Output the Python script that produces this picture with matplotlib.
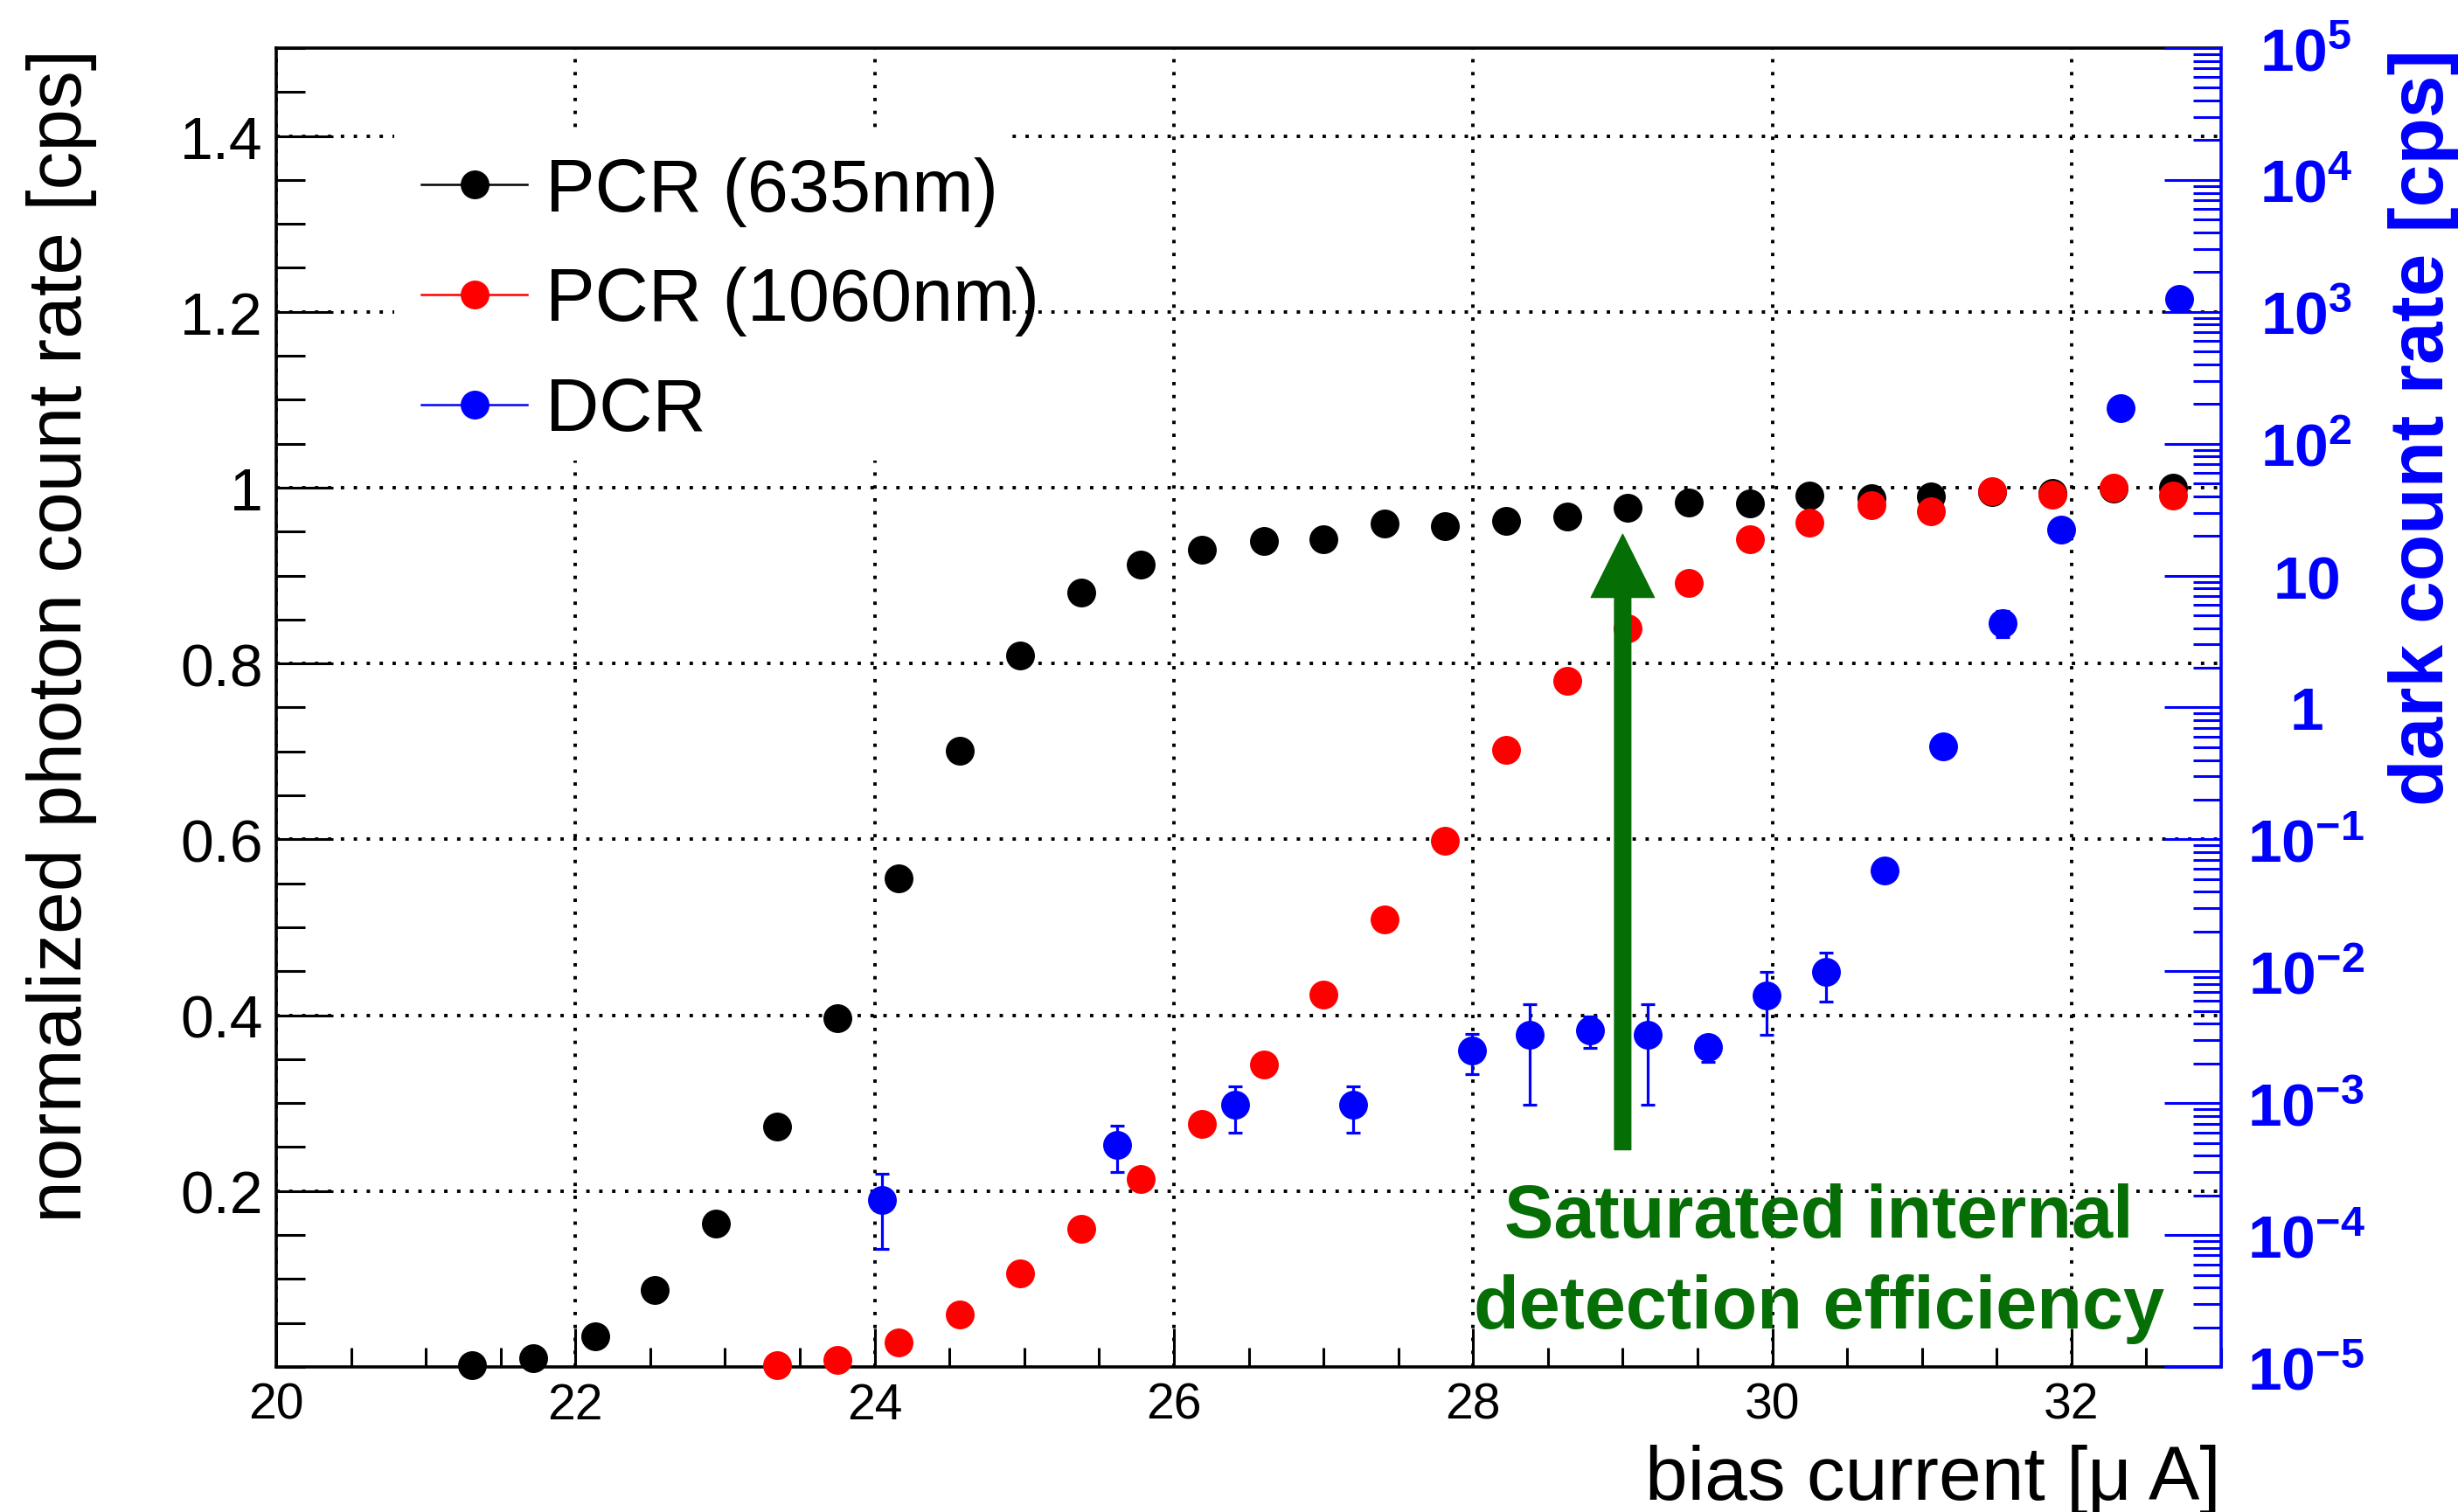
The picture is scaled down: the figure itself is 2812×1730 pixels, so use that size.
import matplotlib
matplotlib.use('Agg')
import matplotlib.pyplot as plt
from matplotlib.lines import Line2D
from matplotlib.patches import Rectangle
from matplotlib.ticker import FixedLocator, LogLocator, NullFormatter

plt.rcParams['font.family'] = ['Liberation Sans', 'DejaVu Sans']
plt.rcParams['mathtext.fontset'] = 'custom'
plt.rcParams['mathtext.rm'] = 'Liberation Sans'
plt.rcParams['mathtext.bf'] = 'Liberation Sans:bold'
plt.rcParams['mathtext.default'] = 'bf'

# normalized photon count rate, 635 nm
pcr635_x = [21.31, 21.72, 22.13, 22.53, 22.94, 23.35, 23.75, 24.16, 24.57, 24.97,
            25.38, 25.78, 26.19, 26.60, 27.00, 27.41, 27.81, 28.22, 28.63, 29.03,
            29.44, 29.85, 30.25, 30.66, 31.06, 31.47, 31.87, 32.28, 32.68]
pcr635_y = [0.002, 0.010, 0.035, 0.087, 0.163, 0.273, 0.397, 0.556, 0.701, 0.809,
            0.881, 0.913, 0.929, 0.939, 0.941, 0.959, 0.956, 0.962, 0.967, 0.977,
            0.983, 0.982, 0.991, 0.988, 0.990, 0.995, 0.994, 0.999, 1.000]

# normalized photon count rate, 1060 nm
pcr1060_x = [23.35, 23.75, 24.16, 24.57, 24.97, 25.38, 25.78, 26.19, 26.60, 27.00,
             27.41, 27.81, 28.22, 28.63, 29.03, 29.44, 29.85, 30.25, 30.66, 31.06,
             31.47, 31.87, 32.28, 32.68]
pcr1060_y = [0.002, 0.008, 0.028, 0.060, 0.106, 0.157, 0.214, 0.276, 0.344, 0.423,
             0.509, 0.598, 0.702, 0.780, 0.840, 0.892, 0.941, 0.960, 0.980, 0.973,
             0.996, 0.992, 1.000, 0.991]

# dark count rate [cps]
dcr_x = [24.05, 25.62, 26.41, 27.20, 27.99, 28.38, 28.78, 29.17, 29.57, 29.96,
         30.36, 30.75, 31.14, 31.54, 31.93, 32.33, 32.72]
dcr_y = [1.85e-4, 4.85e-4, 9.7e-4, 9.7e-4, 2.49e-3, 3.31e-3, 3.57e-3, 3.31e-3, 2.67e-3,
         6.58e-3, 9.9e-3, 0.0577, 0.506, 4.39, 22.4, 187.0, 1250.0]
dcr_err = [1.07e-4, 1.85e-4, 3.7e-4, 3.7e-4, 0.84e-3, 2.34e-3, 0.94e-3, 2.34e-3, 0.6e-3,
           3.3e-3, 4.0e-3, 0.006, 0.05, 1.0, 1.5, 4.0, 10.0]

left_ticks = [0.2, 0.4, 0.6, 0.8, 1.0, 1.2, 1.4]
left_labels = ['0.2', '0.4', '0.6', '0.8', '1', '1.2', '1.4']
right_ticks = [1e-5, 1e-4, 1e-3, 1e-2, 1e-1, 1, 10, 1e2, 1e3, 1e4, 1e5]
right_labels = [r'$10^{-5}$', r'$10^{-4}$', r'$10^{-3}$', r'$10^{-2}$', r'$10^{-1}$',
                r'$1$', r'$10$', r'$10^{2}$', r'$10^{3}$', r'$10^{4}$', r'$10^{5}$']
x_ticks = [20, 22, 24, 26, 28, 30, 32]

green = '#056e05'
ms = 22.7

fig = plt.figure(figsize=(28.12, 17.31), dpi=100)
ax = fig.add_axes([0.11238, 0.09590, 0.79125, 0.87175])
ax2 = ax.twinx()

ax.set_xlim(20, 33)
ax.set_ylim(0, 1.5)
ax.set_axisbelow(True)
ax.set_xticks(x_ticks)
ax.set_xticklabels([str(t) for t in x_ticks])
ax.xaxis.set_minor_locator(FixedLocator([20 + 0.5 * i for i in range(27)]))
ax.set_yticks(left_ticks, left_labels)
ax.yaxis.set_minor_locator(FixedLocator([0.05 * i for i in range(31)]))
ax.tick_params(axis='x', which='major', direction='in', length=32, width=2.2,
               labelsize=41, pad=12, top=False)
ax.tick_params(axis='x', which='minor', direction='in', length=16, width=2.2, top=False)
ax.tick_params(axis='y', which='major', direction='in', length=47, width=2.2,
               labelsize=49, pad=11, right=False)
ax.tick_params(axis='y', which='minor', direction='in', length=24, width=2.2, right=False)
ax.grid(True, which='major', color='black', linestyle=(0, (1, 2.8)), linewidth=2.8)
for s in ['left', 'bottom', 'top']:
    ax.spines[s].set_linewidth(2.6)
ax.spines['right'].set_visible(False)

# white box behind the legend
ax.add_patch(Rectangle((0.0607, 0.6872), 0.315, 0.2512, transform=ax.transAxes,
                       facecolor='white', edgecolor='none', zorder=1))

ax.plot(pcr635_x, pcr635_y, 'o', color='black', ms=ms, clip_on=False, zorder=3)
ax.plot(pcr1060_x, pcr1060_y, 'o', color='red', ms=ms, clip_on=False, zorder=3)

ax.annotate('', xy=(29.0, 0.947), xytext=(29.0, 0.247),
            arrowprops=dict(arrowstyle='simple,head_length=52,head_width=52,tail_width=13.4',
                            mutation_scale=1, color=green, shrinkA=0, shrinkB=0),
            zorder=4)
ax.text(30.31, 0.148, 'Saturated internal', color=green, fontsize=61,
        fontweight='bold', ha='center', va='baseline', zorder=4)
ax.text(30.31, 0.045, 'detection efficiency', color=green, fontsize=61,
        fontweight='bold', ha='center', va='baseline', zorder=4)

ax.set_xlabel('bias current [\u03bc A]', fontsize=63, loc='right')
ax.xaxis.set_label_coords(1.0, -0.058)
ax.set_ylabel('normalized photon count rate [cps]', fontsize=63, loc='top')
ax.yaxis.set_label_coords(-0.092, 1.0)

# dark counts on the log axis
ax2.set_yscale('log')
ax2.set_ylim(1e-5, 1e5)
ax2.errorbar(dcr_x, dcr_y, yerr=dcr_err, fmt='o', color='blue', ms=ms,
             elinewidth=2.3, capsize=5.7, capthick=2.3, clip_on=False)
ax2.set_yticks(right_ticks, right_labels)
ax2.yaxis.set_minor_locator(LogLocator(base=10, subs=[2, 3, 4, 5, 6, 7, 8, 9], numticks=100))
ax2.yaxis.set_minor_formatter(NullFormatter())
ax2.tick_params(axis='y', which='major', direction='in', length=47, width=2.2,
                colors='blue', labelsize=50, pad=70)
ax2.tick_params(axis='y', which='minor', direction='in', length=23, width=2.2, colors='blue')
for lab in ax2.get_yticklabels():
    lab.set_horizontalalignment('center')
for s in ['left', 'bottom', 'top']:
    ax2.spines[s].set_visible(False)
ax2.spines['right'].set_color('blue')
ax2.spines['right'].set_linewidth(2.6)
ax2.set_ylabel('dark count rate [cps]', fontsize=63, color='blue',
               fontweight='bold', loc='top')
ax2.yaxis.set_label_coords(1.086, 1.0)

handles = [Line2D([], [], color='black', marker='o', ms=ms, lw=1.8),
           Line2D([], [], color='red', marker='o', ms=ms, lw=1.8),
           Line2D([], [], color='blue', marker='o', ms=ms, lw=1.8)]
ax.legend(handles, ['PCR (635nm)', 'PCR (1060nm)', 'DCR'], loc='upper left',
          bbox_to_anchor=(0.0746, 0.918), frameon=False, fontsize=61,
          borderpad=0, borderaxespad=0, handlelength=1.43, handletextpad=0.25,
          labelspacing=0.54, numpoints=1)

fig.savefig('out.png', dpi=100)
